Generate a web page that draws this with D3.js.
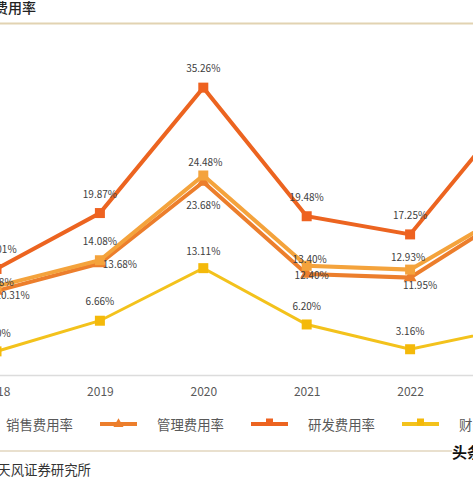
<!DOCTYPE html>
<html><head><meta charset="utf-8">
<script src="https://cdn.jsdelivr.net/npm/d3@7"></script>
<style>
html,body{margin:0;padding:0;background:#fff;overflow:hidden;}
svg{display:block;font-family:"Noto Sans CJK SC","Noto Sans",sans-serif;}
</style></head>
<body>
<svg id="c" width="473" height="477"></svg>
<script>
// ---- data ----
const years = ["2018","2019","2020","2021","2022","2023"];
const seriesNames = ["销售费用率","管理费用率","研发费用率","财务费用率"];
const xiaoshou = [10.88, 14.08, 24.48, 13.40, 12.93, 20.30];
const guanli   = [10.31, 13.68, 23.68, 12.40, 11.95, 19.95];
const yanfa    = [13.01, 19.87, 35.26, 19.48, 17.25, 32.70];
const caiwu    = [2.90, 6.66, 13.11, 6.20, 3.16, 5.82];
const title = "期间费用率";
const source = "资料来源：公司公告，天风证券研究所";

// ---- styling / layout (kept separate from data) ----
const colors = ["#F4A33C","#EC7E2C","#EC6420","#F3C21C"];
const markerColors = ["#F4A33C","#EC7E2C","#EE6220","#F4B90A"];
const widths = [4,4,4,3];
const markers = ["square","triangle","square","square"];
const labelOffsets = [
  [[0,-5],[0,-20],[2,-14],[3,-7],[-2,-13],[0,-15]],
  [[16,4],[20,0],[0,22],[5,1],[10,7],[0,15]],
  [[3,-20],[0,-20],[0,-20],[0,-20],[0,-20],[0,-20]],
  [[0,-19],[0,-20],[0,-18],[0,-19],[0,-19],[0,-19]]
];
const data = [xiaoshou, guanli, yanfa, caiwu];
const W = 473, H = 477;

const svg = d3.select("#c");
const x = d3.scalePoint().domain(years).range([-3.5, 513.5]);
const y = d3.scaleLinear().domain([0, 40]).range([375, 49]);

// title + separator
svg.append("text").attr("x", 36).attr("y", 13).attr("text-anchor","end")
  .attr("font-size", 14).attr("font-weight", 500).attr("fill","#222").text(title);
svg.append("rect").attr("x",0).attr("y",22.5).attr("width",W).attr("height",2).attr("fill","#E2D3B2");

// axis
const ax = svg.append("g").attr("transform","translate(0,375)")
  .call(d3.axisBottom(x).tickSize(0).tickPadding(12));
ax.select(".domain").attr("stroke","#DCDCDC").attr("stroke-width",1.5)
  .attr("d","M0,0.5H" + W);
ax.selectAll("text").attr("font-size",12).attr("fill","#595959")
  .attr("font-family","'Noto Sans CJK SC',sans-serif");

const line = d3.line().x((d,i)=>x(years[i])).y(d=>y(d));

function drawMarker(g, type, cx, cy, color, s){
  if(type==="square"){
    g.append("rect").attr("x",cx-s/2).attr("y",cy-s/2).attr("width",s).attr("height",s).attr("fill",color);
  } else {
    const sym = d3.symbol().type(d3.symbolTriangle).size(s*s*0.9);
    g.append("path").attr("d",sym()).attr("transform",`translate(${cx},${cy})`).attr("fill",color);
  }
}

const order = [3,1,0,2];
order.forEach(si=>{
  const vals = data[si];
  svg.append("path").datum(vals).attr("d",line).attr("fill","none")
    .attr("stroke",colors[si]).attr("stroke-width",widths[si]).attr("stroke-linejoin","miter");
  const g = svg.append("g");
  vals.forEach((v,i)=>drawMarker(g, markers[si], x(years[i]), y(v), markerColors[si], si===1?9:10));
});

// labels
order.forEach(si=>{
  data[si].forEach((v,i)=>{
    const o = labelOffsets[si][i];
    svg.append("text").attr("class","dl").attr("x", x(years[i])+o[0]).attr("y", y(v)+o[1])
      .attr("text-anchor","middle").attr("dominant-baseline","central")
      .attr("font-size",10).attr("fill","#404040").text(v.toFixed(2)+"%");
  });
});

// legend
seriesNames.forEach((n,i)=>{
  const sx = -51 + i*151, ly = 424;
  svg.append("line").attr("x1",sx).attr("x2",sx+37).attr("y1",ly).attr("y2",ly)
    .attr("stroke",colors[i]).attr("stroke-width",4);
  drawMarker(svg, markers[i], sx+18.5, markers[i]==="square"? ly-2 : ly, markerColors[i], 7);
  svg.append("text").attr("x",sx+57).attr("y",ly).attr("dominant-baseline","central")
    .attr("font-size",13.4).attr("fill","#595959").text(n);
});

// bottom separator + source + watermark
svg.append("rect").attr("x",0).attr("y",450.5).attr("width",452).attr("height",1).attr("fill","#D3C29E");
svg.append("text").attr("x",91).attr("y",469).attr("text-anchor","end").attr("dominant-baseline","central")
  .attr("font-size",13.4).attr("fill","#333").text(source);
svg.append("text").attr("x",452).attr("y",458).attr("font-size",15).attr("font-weight",700)
  .attr("fill","#111").text("头条");

// drop texts that lie wholly outside the visible frame
svg.selectAll("text").each(function(){
  const b = this.getBBox();
  const m = this.getCTM();
  const x0 = b.x + m.e, y0 = b.y + m.f;
  if (x0 >= W || x0 + b.width <= 0 || y0 >= H || y0 + b.height <= 0) d3.select(this).remove();
});
</script>
</body></html>
